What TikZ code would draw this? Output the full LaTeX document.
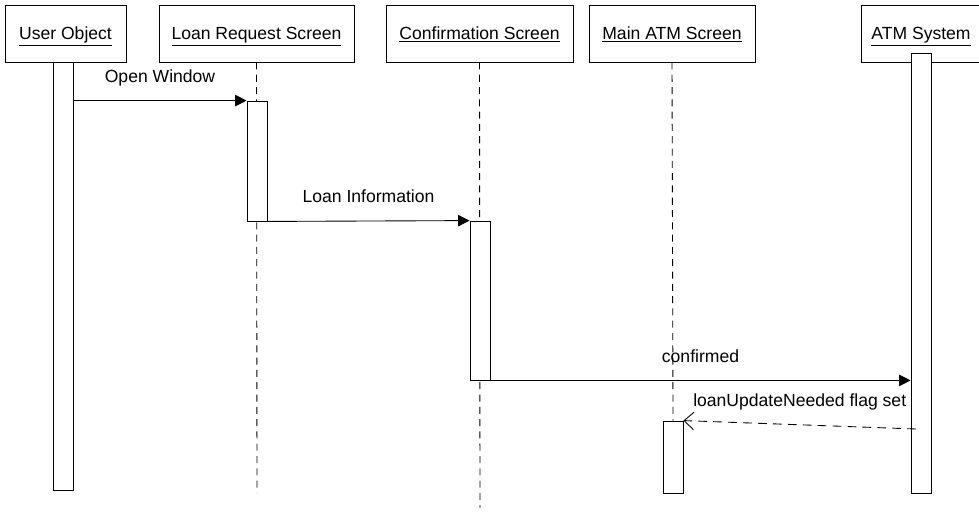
\documentclass[tikz,border=0pt]{standalone}
\usepackage{fontspec}
\setmainfont{Liberation Sans}
\usetikzlibrary{arrows.meta,calc,positioning}

\begin{document}
\begin{tikzpicture}[x=0.02cm,y=-0.02cm,line width=0.5pt,
  font=\fontsize{10}{12}\selectfont,
  obj/.style={draw,rectangle,minimum height=1.14cm,inner sep=0pt,text height=1.6ex,text depth=0.4ex},
  act/.style={draw,fill=white,rectangle,minimum width=0.4cm,inner sep=0pt},
  life/.style={dash pattern=on 4pt off 3pt},
  call/.style={-{Triangle[length=6.5pt,width=6.5pt]}},
  reply/.style={dash pattern=on 5pt off 3.5pt,-{Straight Barb[length=5.5pt,width=10pt]}},
  lbl/.style={midway,yshift=0.48cm,text height=1.6ex,text depth=0.4ex,inner sep=0pt}]

\useasboundingbox (0,0) rectangle (979,511);

% objects
\node[obj,minimum width=2.42cm](U) at (65.5,33.5) {\underline{User Object}};
\node[obj,minimum width=3.9cm](L) at (256.5,33.5) {\underline{Loan Request Screen}};
\node[obj,minimum width=3.74cm](C) at (479.5,33.5) {\underline{Confirmation Screen}};
\node[obj,minimum width=3.32cm](M) at (672,33.5) {\underline{Main ATM Screen}};
\node[obj,minimum width=2.4cm](S) at (921,33.5) {\underline{ATM System}};

% lifelines
\coordinate (Lend) at (257,493);
\coordinate (Cend) at (480,508);
\draw[life] (L.south) -- (Lend);
\draw[life] (C.south) -- (Cend);

% activations
\node[act,minimum height=8.56cm](ua) at (63,276) {};
\node[act,minimum height=2.4cm](la) at (257,161) {};
\node[act,minimum height=3.18cm](ca) at (480,300.5) {};
\node[act,minimum height=1.44cm](ma) at (673,457) {};
\node[act,minimum height=8.8cm](sa) at (921,273) {};
\draw[life] (M.south) -- (ma.north);

% messages
\coordinate (ret) at (916,429);
\path
(ua.east |- la.north west) edge[call] node[lbl] {Open Window} (la.north west)
(la.south east) edge[call] node[lbl] {Loan Information} (ca.north west)
(ca.south east) edge[call] node[lbl] {confirmed} (sa.west |- ca.south east)
(ret) edge[reply] node[lbl] {loanUpdateNeeded flag set} (ma.north east);
\end{tikzpicture}
\end{document}
